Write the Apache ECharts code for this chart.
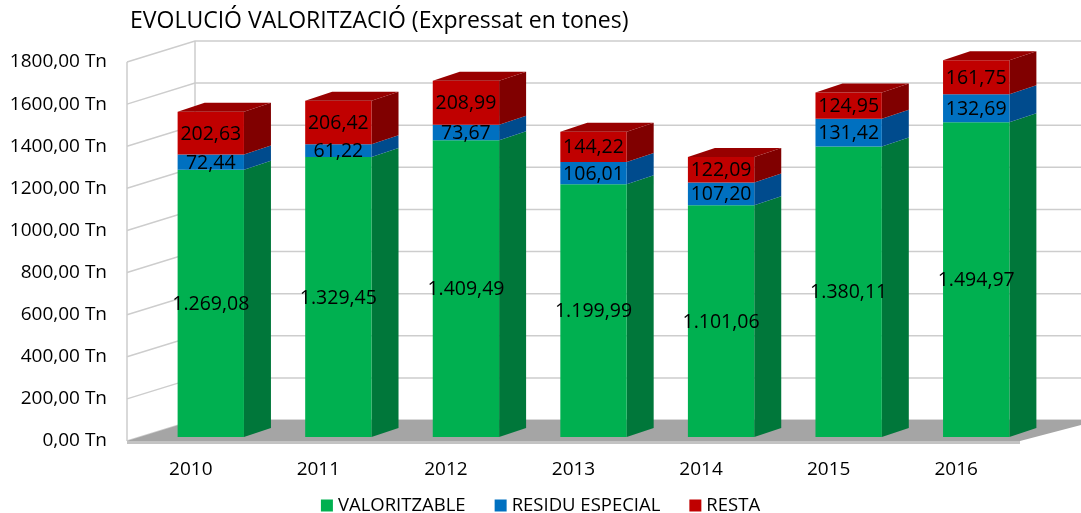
<!DOCTYPE html>
<html lang="ca">
<head>
    <meta charset="UTF-8">
    <title>Evolució valorització</title>
    <script src="https://cdn.jsdelivr.net/npm/echarts@6/dist/echarts.min.js"></script>
    <style>
        html, body { margin: 0; padding: 0; background: #fff; }
        #main { width: 1081px; height: 513px; }
    </style>
</head>
<body>
<div id="main"></div>
<script>
    // dades (tones)
    var years = ['2010', '2011', '2012', '2013', '2014', '2015', '2016'];
    var valoritzable = [1269.08, 1329.45, 1409.49, 1199.99, 1101.06, 1380.11, 1494.97];
    var residuEspecial = [72.44, 61.22, 73.67, 106.01, 107.20, 131.42, 132.69];
    var resta = [202.63, 206.42, 208.99, 144.22, 122.09, 124.95, 161.75];
    var yTicks = [0, 200, 400, 600, 800, 1000, 1200, 1400, 1600, 1800];

    var FONT = '"Open Sans", "Noto Sans", sans-serif';
    // perspectiva "3D" a l'estil Excel
    var WALL_DX = 68, WALL_DY = -21;   // profunditat parets
    var BAR_OX = 20, BAR_OY = -4;      // desplaçament de la cara frontal
    var BAR_DX = 27, BAR_DY = -9;      // profunditat de la barra
    var BAR_W = 0.52;

    function fmt(v) {
        var s = v.toFixed(2).split('.');
        var ent = s[0].replace(/\B(?=(\d{3})+(?!\d))/g, '.');
        return ent + ',' + s[1];
    }

    // construeix les dades apilades
    function stackData(vals, below) {
        return vals.map(function (v, i) {
            var base = 0;
            below.forEach(function (arr) { base += arr[i]; });
            return [i, base + v, base, v];
        });
    }

    function barRenderer(front, side, topColor, isTop) {
        return function (params, api) {
            var i = api.value(0), top = api.value(1), base = api.value(2), v = api.value(3);
            var pb = api.coord([i, base]), pt = api.coord([i, top]);
            var hw = api.size([1, 0])[0] * BAR_W / 2;
            var cx = pb[0] + BAR_OX, yb = pb[1] + BAR_OY, yt = pt[1] + BAR_OY;
            var kids = [
                {type: 'polygon', shape: {points: [[cx + hw, yb], [cx + hw + BAR_DX, yb + BAR_DY], [cx + hw + BAR_DX, yt + BAR_DY], [cx + hw, yt]]},
                    style: {fill: side}},
                {type: 'rect', shape: {x: cx - hw, y: yt, width: hw * 2, height: yb - yt}, style: {fill: front}}
            ];
            if (isTop) {
                kids.push({type: 'polygon', shape: {points: [[cx - hw, yt], [cx - hw + BAR_DX, yt + BAR_DY], [cx + hw + BAR_DX, yt + BAR_DY], [cx + hw, yt]]},
                    style: {fill: topColor}});
            }
            kids.push({type: 'text', z2: 10, style: {text: fmt(v), x: cx, y: (yb + yt) / 2 + 1, align: 'center', verticalAlign: 'middle',
                    font: '19.5px ' + FONT, fill: '#000'}});
            return {type: 'group', children: kids};
        };
    }

    function wallRenderer(params, api) {
        var cs = params.coordSys;
        var v = api.value(1);
        var y = api.coord([0, v])[1];
        var x0 = cs.x, x1 = cs.x + cs.width;
        var lineStyle = {stroke: '#cdcdcd', lineWidth: 1.5, fill: null};
        var kids = [];
        kids.push({type: 'polyline', shape: {points: [[x0, y], [x0 + WALL_DX, y + WALL_DY], [1100, y + WALL_DY]]}, style: lineStyle});
        if (v === 0) {
            var yTop = api.coord([0, 1800])[1];
            kids.push({type: 'line', shape: {x1: x0, y1: y, x2: x0, y2: yTop}, style: lineStyle});
            kids.push({type: 'line', shape: {x1: x0 + WALL_DX, y1: y + WALL_DY, x2: x0 + WALL_DX, y2: yTop + WALL_DY}, style: lineStyle});
            kids.push({type: 'polygon', shape: {points: [[x0, y], [x0 + WALL_DX, y + WALL_DY], [1100, y + WALL_DY], [x1, y]]},
                style: {fill: '#a5a5a5'}});
            kids.push({type: 'rect', shape: {x: x0, y: y, width: x1 - x0, height: 3}, style: {fill: '#c3c3c3'}});
        }
        return {type: 'group', children: kids};
    }

    var myChart = echarts.init(document.getElementById('main'), null, {renderer: 'canvas'});

    myChart.setOption({
        animation: false,
        title: {
            text: 'EVOLUCIÓ VALORITZACIÓ (Expressat en tones)',
            left: 125, top: 5,
            textStyle: {fontFamily: FONT, fontSize: 23, fontWeight: 'normal', color: '#000'}
        },
        legend: {
            data: ['VALORITZABLE', 'RESIDU ESPECIAL', 'RESTA'],
            left: 'center', top: 491,
            icon: 'rect', itemWidth: 12, itemHeight: 12, itemGap: 29,
            textStyle: {fontFamily: FONT, fontSize: 18.5, color: '#000'}
        },
        grid: {left: 127, right: 61, top: 62, bottom: 72},
        xAxis: {
            type: 'category',
            data: years,
            axisLine: {show: false},
            axisTick: {show: false},
            axisLabel: {margin: 19, fontFamily: FONT, fontSize: 19, color: '#000'}
        },
        yAxis: {
            type: 'value',
            min: 0, max: 1800, interval: 200,
            axisLine: {show: false},
            axisTick: {show: false},
            splitLine: {show: false},
            axisLabel: {
                margin: 20, fontFamily: FONT, fontSize: 19, color: '#000',
                formatter: function (v) { return fmt(v).replace(/\./g, '') + ' Tn'; }
            }
        },
        series: [
            {
                name: 'parets',
                type: 'custom',
                z: 1,
                silent: true,
                renderItem: wallRenderer,
                data: yTicks.map(function (t) { return [0, t]; })
            },
            {
                name: 'VALORITZABLE',
                type: 'custom',
                z: 2,
                itemStyle: {color: '#00b050'},
                encode: {x: 0, y: [1, 2]},
                renderItem: barRenderer('#00b050', '#00773a', '#00a048', false),
                data: stackData(valoritzable, [])
            },
            {
                name: 'RESIDU ESPECIAL',
                type: 'custom',
                z: 2,
                itemStyle: {color: '#0070c0'},
                encode: {x: 0, y: [1, 2]},
                renderItem: barRenderer('#0070c0', '#004b8d', '#0060a8', false),
                data: stackData(residuEspecial, [valoritzable])
            },
            {
                name: 'RESTA',
                type: 'custom',
                z: 2,
                itemStyle: {color: '#c00000'},
                encode: {x: 0, y: [1, 2]},
                renderItem: barRenderer('#c00000', '#800000', '#980000', true),
                data: stackData(resta, [valoritzable, residuEspecial])
            }
        ]
    });
</script>
</body>
</html>
